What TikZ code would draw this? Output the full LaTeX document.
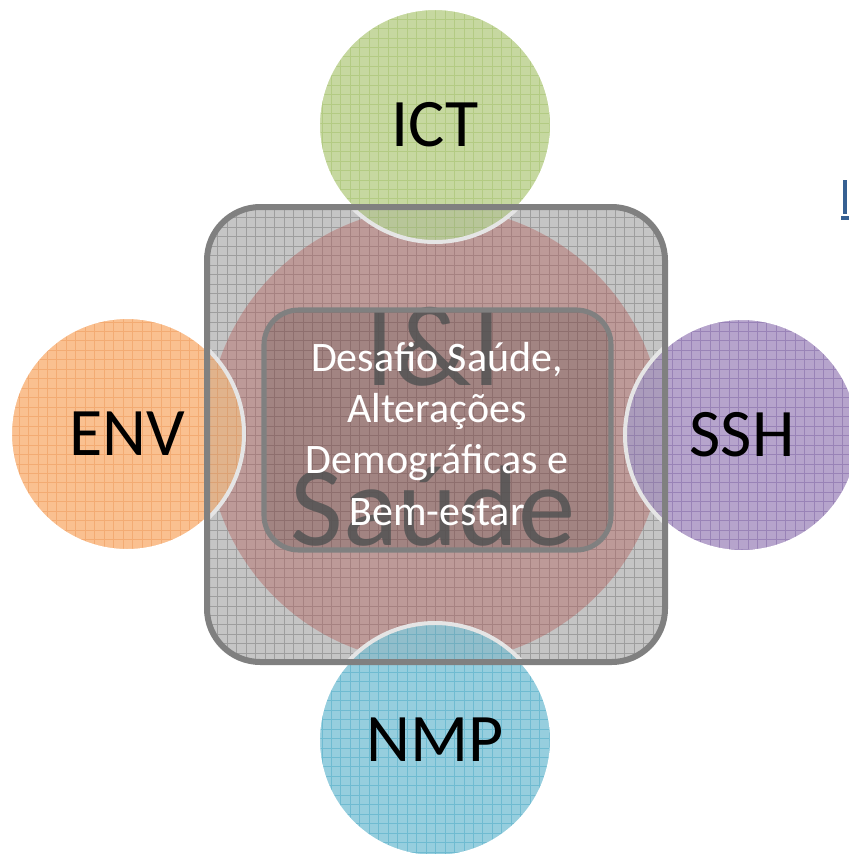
\documentclass[tikz,border=0pt]{standalone}
\usepackage{fontspec}
\setmainfont{Carlito}
\definecolor{ictc}{RGB}{198,216,160}
\definecolor{ictl}{RGB}{160,190,100}
\definecolor{envc}{RGB}{250,192,144}
\definecolor{envl}{RGB}{240,150,80}
\definecolor{sshc}{RGB}{182,164,204}
\definecolor{sshl}{RGB}{128,100,165}
\definecolor{nmpc}{RGB}{150,206,222}
\definecolor{nmpl}{RGB}{75,170,198}
\definecolor{sqfill}{RGB}{215,215,215}
\definecolor{sqline}{RGB}{128,128,128}
\definecolor{redc}{RGB}{192,80,77}
\definecolor{linkc}{RGB}{54,96,146}
\tikzset{
  sat/.style={circle, minimum size=175.5pt, inner sep=0pt, font=\fontsize{51}{60}\selectfont, text=black},
  gridline/.style={line width=0.5pt, step=7.1pt},
}
\begin{document}
\begin{tikzpicture}[x=0.75pt,y=-0.75pt]
\fill[white] (0,0) rectangle (849,854);
\useasboundingbox (0,0) rectangle (849,854);
% link fragment
\fill[linkc] (843,180) rectangle (847,214);
\fill[linkc] (841,216) rectangle (849,220);
% square fill with grid
\coordinate (sqA) at (207,207);
\coordinate (sqB) at (665,662);
\begin{scope}
  \clip[rounded corners=40pt] (sqA) rectangle (sqB);
  \fill[sqfill] (sqA) rectangle (sqB);
  \draw[gridline, draw=gray!70] (sqA) grid (sqB);
\end{scope}
% red circle
\node[circle, minimum size=342pt, inner sep=0pt] (red) at (435,435) {};
\fill[redc, opacity=0.4] (red.center) circle[radius=171pt];
% satellites
\foreach \n/\px/\py/\c/\l in {ict/435/125/ictc/ictl, env/127/434/envc/envl, ssh/742/435/sshc/sshl, nmp/435/740/nmpc/nmpl}{
  \fill[\c] (\px,\py) circle[radius=87.75pt];
  \begin{scope}
    \clip (\px,\py) circle[radius=87.75pt];
    \draw[gridline, draw=\l!80] (\px-120,\py-120) grid (\px+120,\py+120);
  \end{scope}
  \draw[white, line width=3pt] (\px,\py) circle[radius=87.75pt];
}
% gray overlay over the square
\fill[sqline, opacity=0.2, rounded corners=40pt] (sqA) rectangle (sqB);
\draw[sqline, line width=4.5pt, rounded corners=40pt] (sqA) rectangle (sqB);
% big background text
\node[text=black!62, opacity=0.85, font=\fontsize{86}{90}\selectfont, inner sep=0pt, anchor=base] (ii) at (433,385) {I\&I};
\node[text=black!62, opacity=0.85, font=\fontsize{86}{90}\selectfont, inner sep=0pt, anchor=base] (saude) at (433,545) {Saúde};
% inner rectangle
\fill[black, opacity=0.14, rounded corners=26pt] (264,310) rectangle (611,550);
\draw[sqline, line width=3.8pt, rounded corners=26pt] (264,310) rectangle (611,550);
\node[text=white, align=center, font=\fontsize{31.5}{38.3}\selectfont, inner sep=0pt] (center) at (437,434) {Desafio Saúde,\\Alterações\\Demográficas e\\Bem-estar};
% satellite nodes (labels)
\node[sat] (ICT) at (435,125) {ICT};
\node[sat] (ENV) at (127,434) {ENV};
\node[sat] (SSH) at (742,435) {SSH};
\node[sat] (NMP) at (435,740) {NMP};
\end{tikzpicture}
\end{document}
